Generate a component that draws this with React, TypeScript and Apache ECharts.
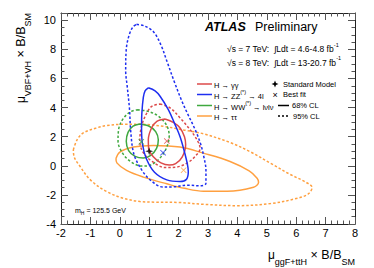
import React, { useEffect, useRef } from "react";
import * as echarts from "echarts";

// Axis ranges
const X_MIN = -2, X_MAX = 8, X_STEP = 1;
const Y_MIN = -4, Y_MAX = 10.5, Y_STEP = 2;

// Contours: [mu_ggF+ttH, mu_VBF+VH]
const gg68 = [[1.54,3.22],[1.82,2.98],[2.05,2.6],[2.2,2.0],[2.24,1.45],[2.12,0.6],[1.9,0.15],[1.68,0.05],[1.4,0.2],[1.14,0.62],[0.98,1.2],[0.97,1.8],[1.08,2.6],[1.26,3.06],[1.54,3.22]];
const gg95 = [[1.37,4.25],[1.71,3.98],[2.05,3.29],[2.39,2.48],[2.65,1.7],[2.73,1.2],[2.56,0.64],[2.3,0.2],[1.95,-0.08],[1.55,-0.12],[1.1,0.3],[0.8,0.9],[0.68,1.7],[0.75,2.8],[0.95,3.75],[1.1,4.1],[1.37,4.25]];
const zz68 = [[0.97,5.36],[1.2,5.15],[1.37,4.78],[1.65,3.86],[1.88,2.83],[2.05,2.0],[2.18,1.1],[2.3,0.1],[2.33,-0.4],[2.27,-0.92],[2.05,-1.08],[1.6,-0.97],[1.18,-0.45],[0.9,0.5],[0.77,1.5],[0.74,2.6],[0.75,3.6],[0.8,4.7],[0.86,5.15],[0.97,5.36]];
const zz95 = [[0.57,9.72],[0.85,9.6],[1.15,9.2],[1.4,8.3],[1.6,7.2],[1.85,5.8],[2.1,4.5],[2.3,3.6],[2.56,2.5],[2.75,1.5],[2.86,0.6],[2.93,-0.3],[2.93,-1.2],[2.75,-1.38],[2.3,-1.33],[1.8,-1.45],[1.45,-1.45],[1.05,-1.0],[0.75,-0.3],[0.48,0.8],[0.37,2.4],[0.33,3.9],[0.25,5.5],[0.2,6.5],[0.22,8.0],[0.32,9.0],[0.45,9.55],[0.57,9.72]];
const ww68 = [[0.68,2.87],[1.0,2.72],[1.22,2.35],[1.31,1.79],[1.25,1.2],[1.05,0.72],[0.8,0.53],[0.52,0.65],[0.3,1.05],[0.22,1.68],[0.28,2.3],[0.45,2.72],[0.68,2.87]];
const ww95 = [[0.6,3.85],[1.0,3.72],[1.35,3.35],[1.6,2.75],[1.68,2.05],[1.58,1.2],[1.35,0.5],[1.0,0.02],[0.75,-0.02],[0.4,0.25],[0.1,0.85],[-0.06,1.7],[-0.03,2.6],[0.12,3.25],[0.35,3.7],[0.6,3.85]];
const tt68 = [[-0.13,0.5],[0.0,0.94],[0.46,1.29],[1.14,1.4],[2.05,1.29],[2.84,0.87],[3.75,0.3],[4.4,-0.35],[4.67,-0.85],[4.72,-1.13],[4.55,-1.47],[3.65,-1.75],[2.85,-1.75],[2.2,-1.55],[1.6,-1.24],[0.8,-0.78],[0.23,-0.32],[-0.1,0.2],[-0.13,0.5]];
const tt95 = [[-1.58,1.1],[-1.45,1.8],[-1.24,2.26],[-0.8,2.6],[-0.45,2.76],[0.1,2.85],[0.7,2.85],[1.48,2.71],[2.2,2.45],[2.84,2.2],[3.75,1.6],[4.45,0.95],[5.15,0.15],[5.8,-0.6],[6.3,-1.1],[6.54,-1.5],[6.4,-1.95],[6.0,-2.25],[5.12,-2.6],[4.0,-2.74],[2.85,-2.65],[2.0,-2.52],[1.2,-2.5],[0.69,-2.46],[0.12,-2.23],[-0.45,-1.77],[-1.0,-0.97],[-1.35,-0.05],[-1.55,0.6],[-1.58,1.1]];

// Best fits and SM
const bestGG = [1.6, 1.7];
const bestZZ = [1.47, 0.9];
const bestWW = [0.73, 1.65];
const bestTT = [2.17, -0.3];
const standardModel = [1, 1];

const RED = "#dc4a4a";
const BLUE = "#1e2ef0";
const GREEN = "#3fa83f";
const ORANGE = "#ffa040";

const FONT = "Liberation Sans, Arial, Helvetica, sans-serif";
const CROSS = "path://M0,1L1,0L5,4L9,0L10,1L6,5L10,9L9,10L5,6L1,10L0,9L4,5Z";
const STAR = "path://M5,0L6.3,3.7L10,5L6.3,6.3L5,10L3.7,6.3L0,5L3.7,3.7Z";

function contour(data: number[][], color: string, dashed: boolean) {
  return {
    type: "line",
    data,
    smooth: 0.35,
    symbol: "none",
    clip: true,
    lineStyle: { color, width: 1.5, type: dashed ? [2.5, 2] : "solid" },
    z: 2,
  };
}

function best(p: number[], color: string) {
  return {
    type: "scatter",
    data: [p],
    symbol: CROSS,
    symbolSize: 6,
    itemStyle: { color },
    z: 4,
  };
}

const richBase = {
  m: { fontSize: 12.5, fontFamily: FONT, color: "#000", lineHeight: 22, verticalAlign: "middle" },
  mu: { fontSize: 12, fontFamily: FONT, color: "#000", lineHeight: 22, verticalAlign: "middle" },
  sub: { fontSize: 9, fontFamily: FONT, color: "#000", lineHeight: 22, verticalAlign: "bottom" },
};

function axisCommon(showLabel: boolean) {
  return {
    axisLine: { show: true, onZero: false, lineStyle: { color: "#222", width: 1 } },
    axisTick: { show: true, inside: true, length: 7, lineStyle: { color: "#555", width: 1 } },
    splitLine: { show: false },
    axisLabel: { show: showLabel, color: "#000", fontSize: 11, fontFamily: FONT },
  };
}

export default function App() {
  const ref = useRef<HTMLDivElement>(null);
  useEffect(() => {
    document.body.style.margin = "0";
    const chart = echarts.init(ref.current!, null, { renderer: "svg" });
    const legendRows = [
      { c: RED, t: "{n|H → γγ}" },
      { c: BLUE, t: "{n|H → ZZ}{sup|(*)}{n| → 4l}" },
      { c: GREEN, t: "{n|H → WW}{sup|(*)}{n| → lνlν}" },
      { c: ORANGE, t: "{n|H → ττ}" },
    ];
    const rowY = [84, 94.5, 105.5, 116];
    const smallRich = {
      sup: { fontSize: 5.5, fontFamily: FONT, color: "#000", lineHeight: 11, verticalAlign: "top" },
      n: { fontSize: 7.5, fontFamily: FONT, color: "#000", lineHeight: 11, verticalAlign: "bottom" },
    };
    const graphics: any[] = [];
    legendRows.forEach((r, i) => {
      graphics.push({
        type: "line",
        shape: { x1: 197, y1: rowY[i], x2: 212, y2: rowY[i] },
        style: { stroke: r.c, lineWidth: 1.5 },
      });
      graphics.push({
        type: "text",
        x: 214,
        y: rowY[i],
        style: { text: r.t, rich: smallRich, verticalAlign: "middle", fontSize: 7.5, fontFamily: FONT, fill: "#000" },
      });
    });
    const small = { fontSize: 7.5, fontFamily: FONT, fill: "#000", verticalAlign: "middle" };
    const lumiRich = {
      a: { fontSize: 8.5, fontFamily: FONT, color: "#000", lineHeight: 12, verticalAlign: "bottom" },
      s: { fontSize: 5.5, fontFamily: FONT, color: "#000", lineHeight: 12, verticalAlign: "top" },
    };
    graphics.push(
      {
        type: "polygon",
        shape: { points: [[275, 80.5], [276, 83], [278.5, 84], [276, 85], [275, 87.5], [274, 85], [271.5, 84], [274, 83]] },
        style: { fill: "#000" },
      },
      { type: "text", x: 283, y: rowY[0], style: { text: "Standard Model", ...small } },
      { type: "text", x: 275, y: rowY[1], style: { text: "×", fontSize: 9, fontFamily: FONT, fill: "#000", align: "center", verticalAlign: "middle" } },
      { type: "text", x: 283, y: rowY[1], style: { text: "Best fit", ...small } },
      { type: "line", shape: { x1: 278, y1: rowY[2], x2: 289, y2: rowY[2] }, style: { stroke: "#000", lineWidth: 1.5 } },
      { type: "text", x: 292, y: rowY[2], style: { text: "68% CL", ...small } },
      { type: "line", shape: { x1: 278, y1: rowY[3], x2: 290, y2: rowY[3] }, style: { stroke: "#000", lineWidth: 1.5, lineDash: [2, 2] } },
      { type: "text", x: 293, y: rowY[3], style: { text: "95% CL", ...small } },
      {
        type: "text", x: 205, y: 27,
        style: { text: "ATLAS", fontSize: 12.5, fontWeight: "bold", fontStyle: "italic", fontFamily: FONT, fill: "#000", verticalAlign: "middle" },
      },
      {
        type: "text", x: 255, y: 27,
        style: { text: "Preliminary", fontSize: 12.5, fontFamily: FONT, fill: "#000", verticalAlign: "middle" },
      },
      {
        type: "text", x: 227, y: 47.5,
        style: { text: "{a|√s = 7 TeV:  ∫Ldt = 4.6-4.8 fb}{s|-1}", rich: lumiRich, verticalAlign: "middle" },
      },
      {
        type: "text", x: 227, y: 61,
        style: { text: "{a|√s = 8 TeV:  ∫Ldt = 13-20.7 fb}{s|-1}", rich: lumiRich, verticalAlign: "middle" },
      },
      {
        type: "text", x: 75, y: 210,
        style: {
          text: "{a|m}{b|H}{a| = 125.5 GeV}",
          rich: {
            a: { fontSize: 7, fontFamily: FONT, color: "#000", lineHeight: 11, verticalAlign: "middle" },
            b: { fontSize: 5, fontFamily: FONT, color: "#000", lineHeight: 11, verticalAlign: "bottom" },
          },
          verticalAlign: "middle",
        },
      },
      {
        type: "text", x: 355, y: 255,
        style: { text: "{mu|μ}{sub|ggF+ttH}{m| × B/B}{sub|SM}", rich: richBase, align: "right", verticalAlign: "middle" },
      },
      {
        type: "text", x: 21, y: 13, rotation: Math.PI / 2,
        style: { text: "{mu|μ}{sub|VBF+VH}{m| × B/B}{sub|SM}", rich: richBase, align: "right", verticalAlign: "middle" },
      }
    );

    chart.setOption({
      animation: false,
      grid: { left: 61, right: 19, top: 13, bottom: 44 },
      xAxis: [
        {
          type: "value", min: X_MIN, max: X_MAX, interval: X_STEP, position: "bottom",
          ...axisCommon(true),
          minorTick: { show: true, splitNumber: 5, length: 3.5, lineStyle: { color: "#555" } },
          axisLabel: { show: true, color: "#000", fontSize: 11, fontFamily: FONT, margin: 3 },
        },
        {
          type: "value", min: X_MIN, max: X_MAX, interval: X_STEP, position: "top",
          ...axisCommon(false),
          minorTick: { show: true, splitNumber: 5, length: 3.5, lineStyle: { color: "#555" } },
        },
      ],
      yAxis: [
        {
          type: "value", min: Y_MIN, max: Y_MAX, interval: Y_STEP, position: "left",
          ...axisCommon(true),
          minorTick: { show: true, splitNumber: 4, length: 3.5, lineStyle: { color: "#555" } },
          axisLabel: {
            show: true, color: "#000", fontSize: 11, fontFamily: FONT, margin: 5,
            formatter: (v: number) => (v % 2 === 0 ? String(v) : ""),
          },
        },
        {
          type: "value", min: Y_MIN, max: Y_MAX, interval: Y_STEP, position: "right",
          ...axisCommon(false),
          minorTick: { show: true, splitNumber: 4, length: 3.5, lineStyle: { color: "#555" } },
        },
      ],
      series: [
        contour(tt95, ORANGE, true),
        contour(tt68, ORANGE, false),
        contour(ww95, GREEN, true),
        contour(ww68, GREEN, false),
        contour(gg95, RED, true),
        contour(gg68, RED, false),
        contour(zz95, BLUE, true),
        contour(zz68, BLUE, false),
        best(bestGG, RED),
        best(bestZZ, BLUE),
        best(bestWW, GREEN),
        best(bestTT, ORANGE),
        {
          type: "scatter",
          data: [standardModel],
          symbol: STAR,
          symbolSize: 8,
          itemStyle: { color: "#000" },
          z: 5,
        },
      ],
      graphic: graphics,
    });
    return () => chart.dispose();
  }, []);
  return <div ref={ref} style={{ width: 374, height: 268 }} />;
}
